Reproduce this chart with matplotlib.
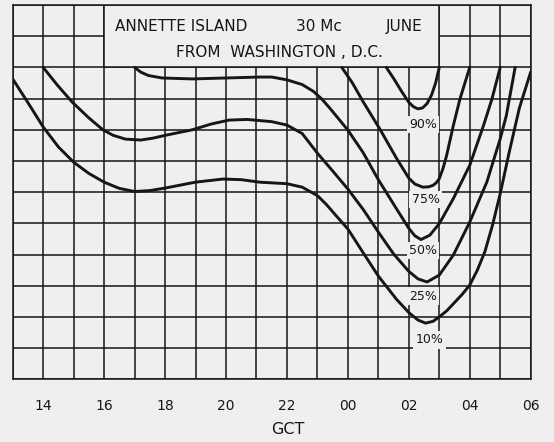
import matplotlib.pyplot as plt
from matplotlib.patches import Rectangle

# hours past 00 GCT of the first day (24 = 00, 26 = 02 ...), y in grid units
hours_90 = [25.26, 25.5, 25.75, 26.0, 26.15, 26.3, 26.45, 26.6, 26.75, 26.88, 27.0]
vals_90 = [10.0, 9.65, 9.25, 8.88, 8.74, 8.67, 8.7, 8.84, 9.12, 9.5, 10.0]

hours_75 = [23.8, 24.15, 24.5, 25.04, 25.6, 26.0, 26.2, 26.46, 26.65, 26.8, 26.9, 27.0,
            27.12, 27.24, 27.46, 27.68, 28.0]
vals_75 = [10.0, 9.5, 8.9, 8.04, 7.08, 6.45, 6.26, 6.16, 6.17, 6.22, 6.3, 6.43,
           6.75, 7.17, 8.13, 8.99, 10.0]

hours_50 = [17.0, 17.2, 17.45, 17.9, 18.9, 20.0, 21.1, 21.5, 22.0, 22.5, 22.87, 23.15,
            23.41, 24.0, 24.5, 25.0, 25.6, 26.0, 26.2, 26.4, 26.69, 27.0, 27.46, 28.0,
            28.45, 28.73, 29.0]
vals_50 = [10.0, 9.85, 9.74, 9.66, 9.63, 9.66, 9.69, 9.69, 9.6, 9.45, 9.23, 8.98,
           8.69, 7.99, 7.27, 6.4, 5.46, 4.84, 4.6, 4.48, 4.62, 4.99, 5.79, 6.86,
           8.13, 8.99, 10.0]

hours_25 = [14.0, 14.45, 14.95, 15.5, 15.96, 16.3, 16.7, 17.2, 17.6, 18.05, 18.9, 19.5,
            20.1, 20.7, 21.5, 22.0, 22.5, 23.0, 23.5, 24.0, 24.5, 25.0, 25.5, 26.0, 26.3,
            26.6, 27.0, 27.46, 28.0, 28.56, 29.0, 29.2, 29.49]
vals_25 = [10.0, 9.45, 8.89, 8.38, 8.0, 7.82, 7.7, 7.67, 7.73, 7.83, 8.0, 8.18,
           8.31, 8.33, 8.26, 8.15, 7.88, 7.25, 6.68, 6.1, 5.45, 4.72, 4.02, 3.46, 3.22,
           3.12, 3.34, 3.98, 5.04, 6.32, 7.71, 8.45, 10.0]

hours_10 = [13.0, 13.5, 14.0, 14.5, 15.0, 15.5, 16.0, 16.5, 17.0, 17.5, 18.0, 19.0, 19.9,
            20.5, 21.1, 22.0, 22.5, 23.0, 23.3, 23.6, 24.0, 24.5, 25.0, 25.6, 26.0, 26.3,
            26.55, 26.8, 27.0, 27.25, 27.5, 27.75, 28.0, 28.25, 28.5, 28.75, 29.0, 29.3,
            29.63, 30.0]
vals_10 = [9.63, 8.87, 8.09, 7.45, 6.96, 6.6, 6.32, 6.12, 6.02, 6.05, 6.13, 6.32, 6.42,
           6.4, 6.32, 6.27, 6.16, 5.89, 5.6, 5.26, 4.82, 4.06, 3.31, 2.56, 2.14, 1.9,
           1.8, 1.86, 2.0, 2.2, 2.46, 2.72, 3.02, 3.5, 4.1, 4.95, 5.95, 7.3,
           8.7, 9.85]

labels = ["90%", "75%", "50%", "25%", "10%"]
label_x = [26.47, 26.55, 26.46, 26.46, 26.68]
label_y = [8.17, 5.77, 4.12, 2.67, 1.26]

tick_pos = [14, 16, 18, 20, 22, 24, 26, 28, 30]
tick_text = ["14", "16", "18", "20", "22", "00", "02", "04", "06"]

bg = "#efefef"
ink = "#161616"

fig = plt.figure(figsize=(5.54, 4.42), dpi=100, facecolor=bg)
ax = fig.add_axes([0.0229, 0.1419, 0.9350, 0.8468], facecolor=bg)

ax.set_xlim(13, 30)
ax.set_ylim(0, 12)

# hand drawn grid: one line per hour, one per unit
for h in range(13, 31):
    ax.axvline(h, color=ink, lw=1.1, zorder=1)
for v in range(0, 13):
    ax.axhline(v, color=ink, lw=1.1, zorder=1)

# title block sits over the grid
ax.add_patch(Rectangle((16, 10), 11, 2, facecolor=bg, edgecolor=ink, lw=1.1, zorder=2))
ax.text(16.36, 11.32, "ANNETTE ISLAND", fontsize=11, ha="left", va="center", color=ink, zorder=3)
ax.text(22.3, 11.32, "30 Mc", fontsize=11, ha="left", va="center", color=ink, zorder=3)
ax.text(25.25, 11.32, "JUNE", fontsize=11, ha="left", va="center", color=ink, zorder=3)
ax.text(18.36, 10.49, "FROM  WASHINGTON , D.C.", fontsize=11, ha="left", va="center",
        color=ink, zorder=3)

curves = [(hours_90, vals_90), (hours_75, vals_75), (hours_50, vals_50),
          (hours_25, vals_25), (hours_10, vals_10)]
for hx, vy in curves:
    ax.plot(hx, vy, color=ink, lw=2.1, solid_joinstyle="round", solid_capstyle="round", zorder=4)

for t, lx, ly in zip(labels, label_x, label_y):
    ax.text(lx, ly, t, fontsize=9, ha="center", va="center", color=ink, zorder=5,
            bbox=dict(facecolor=bg, edgecolor="none", pad=1.5))

for s in ax.spines.values():
    s.set_color(ink)
    s.set_linewidth(1.1)

ax.set_yticks([])
ax.set_xticks(tick_pos)
ax.set_xticklabels(tick_text, fontsize=10, color=ink)
ax.tick_params(axis="x", length=0, pad=14)

# axis title sits a little right of centre in the original
fig.text(288 / 554, 1 - 429 / 442, "GCT", fontsize=11.5, color=ink, ha="center", va="center")

fig.savefig("out.png", dpi=100, facecolor=bg)
